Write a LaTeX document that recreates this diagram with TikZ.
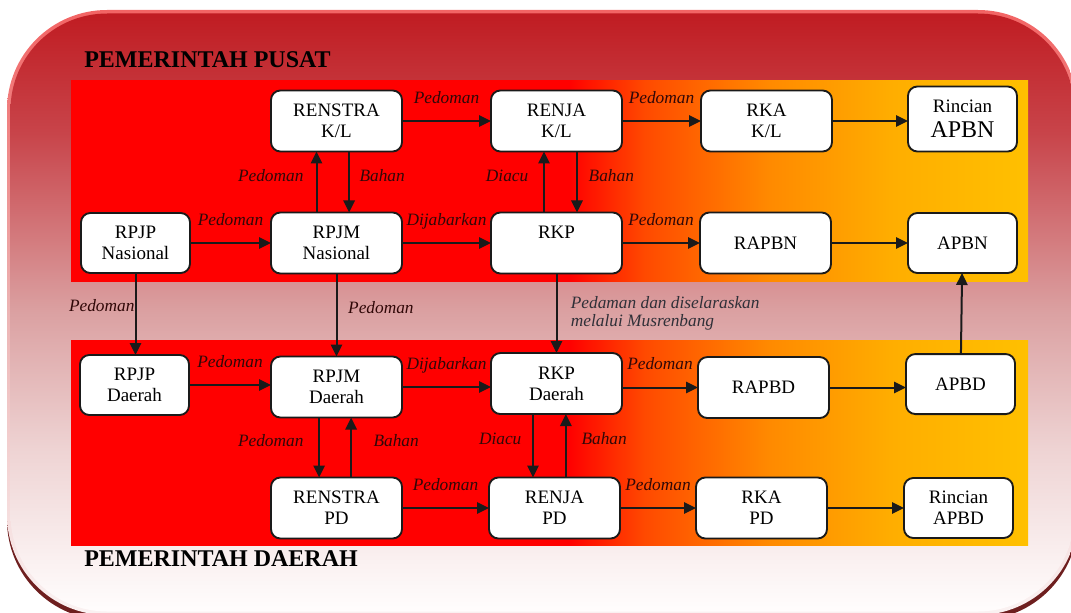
\documentclass[tikz,border=0pt]{standalone}
\usepackage{fontspec}
\setmainfont{Liberation Serif}
\usetikzlibrary{positioning,arrows.meta}

\definecolor{bandred}{HTML}{FF0000}
\definecolor{bandoa}{HTML}{FF4A00}
\definecolor{bandob}{HTML}{FF8A00}
\definecolor{bandoc}{HTML}{FFAE00}
\definecolor{bandyel}{HTML}{FFC000}
\definecolor{frtop}{HTML}{C01C22}
\definecolor{fra}{HTML}{C8444A}
\definecolor{frb}{HTML}{DBA1A2}
\definecolor{frc}{HTML}{EED3D3}
\definecolor{frd}{HTML}{FAF0F0}
\definecolor{frbot}{HTML}{FFFDFD}
\definecolor{edgetop}{HTML}{F26464}
\definecolor{edgemid}{HTML}{ECB4B4}
\definecolor{edgebot}{HTML}{FAF2F2}
\definecolor{frshadow}{HTML}{6E1F1F}
\definecolor{boxline}{HTML}{1A1A1A}
\definecolor{lbltxt}{HTML}{300808}
\definecolor{notetxt}{HTML}{303038}

\pgfdeclarehorizontalshading{bandfill}{100bp}{color(0bp)=(bandred); color(51bp)=(bandred); color(55bp)=(bandoa); color(61.5bp)=(bandob); color(68bp)=(bandoc); color(75bp)=(bandyel); color(100bp)=(bandyel)}
\pgfdeclareverticalshading{framefill}{100bp}{color(0bp)=(frbot); color(25bp)=(frbot); color(29.5bp)=(frd); color(38.6bp)=(frc); color(50bp)=(frb); color(65bp)=(fra); color(75bp)=(frtop); color(100bp)=(frtop)}
\pgfdeclareverticalshading{frameedge}{100bp}{color(0bp)=(edgebot); color(25bp)=(edgebot); color(50bp)=(edgemid); color(75bp)=(edgetop); color(100bp)=(edgetop)}

\tikzset{
	box/.style={draw=boxline, line width=1.4pt, fill=white, rounded corners=7pt, align=center, outer sep=0pt,
		font=\fontsize{14.25}{15.75}\selectfont, inner sep=2pt, minimum width=98.25pt, minimum height=45.75pt},
	boxs/.style={box, minimum width=81.75pt, minimum height=45pt},
	lbl/.style={font=\itshape\fontsize{13}{15.5}\selectfont, text=lbltxt, inner sep=1pt, text height=9pt, text depth=2.5pt},
	note/.style={font=\itshape\fontsize{13}{13.5}\selectfont, text=notetxt, inner sep=1pt, align=left},
	title/.style={font=\bfseries\fontsize{18}{20}\selectfont, inner sep=0pt},
	arr/.style={-{Triangle[length=9pt,width=8.5pt]}, line width=1.5pt, draw=boxline}
}

\begin{document}
\begin{tikzpicture}[x=0.75pt, y=-0.75pt]
			\useasboundingbox (0,0) rectangle (1071,613);
			
			% Frame and bands
			\fill[frshadow, rounded corners=75pt] (7,17) rectangle (1078,620);
			\shade[shading=frameedge, rounded corners=75pt] (7,10) rectangle (1078,615);
			\shade[shading=framefill, rounded corners=72.5pt] (10.5,13.5) rectangle (1074.5,611.5);
			\shade[shading=bandfill] (71,81) rectangle (1028,281);
			\shade[shading=bandfill] (71,340) rectangle (1028,545);
			
			\node[title, anchor=base west] (t_pusat) at (84,68) {PEMERINTAH PUSAT};
			\node[title, anchor=base west] (t_daerah) at (84,566) {PEMERINTAH DAERAH};
			
			% Define nodes
			\node[box] (rpjm_n) at (336.5,243) {RPJM\\Nasional};
			\node[boxs, left=60.75pt of rpjm_n] (rpjp_n) {RPJP\\Nasional};
			\node[box, right=66.75pt of rpjm_n] (rkp_n) {RKP\\\phantom{N}};
			\node[box, right=58.5pt of rkp_n] (rapbn) {RAPBN};
			\node[boxs, right=57.75pt of rapbn] (apbn) {APBN};
			
			\node[box, above=45.75pt of rpjm_n] (renstra_kl) {RENSTRA\\K/L};
			\node[box, right=66.75pt of renstra_kl] (renja_kl) {RENJA\\K/L};
			\node[box, right=59.25pt of renja_kl] (rka_kl) {RKA\\K/L};
			\node[boxs, right=57pt of rka_kl, yshift=1.5pt, minimum height=48.75pt] (rinc_n) {Rincian\\[3pt]{\fontsize{18}{18}\selectfont APBN}};
			
			\node[box, below=62.25pt of rpjm_n] (rpjm_d) {RPJM\\Daerah};
			\node[boxs, left=61.5pt of rpjm_d, yshift=1.5pt] (rpjp_d) {RPJP\\Daerah};
			\node[box, right=66.75pt of rpjm_d, yshift=2.6pt] (rkp_d) {RKP\\Daerah};
			\node[box, right=57pt of rkp_d, yshift=-3pt] (rapbd) {RAPBD};
			\node[boxs, right=57.75pt of rapbd, yshift=2.6pt] (apbd) {APBD};
			
			\node[box, below=45pt of rpjm_d] (renstra_pd) {RENSTRA\\PD};
			\node[box, right=65.25pt of renstra_pd] (renja_pd) {RENJA\\PD};
			\node[box, right=57pt of renja_pd] (rka_pd) {RKA\\PD};
			\node[boxs, right=57.75pt of rka_pd] (rinc_d) {Rincian\\APBD};
			
			% Connect the nodes
			\draw[arr] (renstra_kl) -- node[lbl, above=9pt] {Pedoman} (renja_kl);
			\draw[arr] (renja_kl) -- node[lbl, above=9pt] {Pedoman} (rka_kl);
			\draw[arr] (rka_kl.east) -- (rka_kl.east -| rinc_n.west);
			\draw[arr] (rpjp_n) -- node[lbl, above=9pt] {Pedoman} (rpjm_n);
			\draw[arr] (rpjm_n) -- node[lbl, above=9pt] {Dijabarkan} (rkp_n);
			\draw[arr] (rkp_n) -- node[lbl, above=9pt] {Pedoman} (rapbn);
			\draw[arr] (rapbn) -- (apbn);
			
			\draw[arr] ([xshift=-15pt]rpjm_n.north) -- node[lbl, left=8pt, yshift=4pt] {Pedoman} ([xshift=-15pt]renstra_kl.south);
			\draw[arr] ([xshift=9.5pt]renstra_kl.south) -- node[lbl, right=6pt, yshift=4pt] {Bahan} ([xshift=9.5pt]rpjm_n.north);
			\draw[arr] ([xshift=-9.4pt]rkp_n.north) -- node[lbl, left=10pt, yshift=4pt] {Diacu} ([xshift=-9.4pt]renja_kl.south);
			\draw[arr] ([xshift=15.4pt]renja_kl.south) -- node[lbl, right=7pt, yshift=4pt] {Bahan} ([xshift=15.4pt]rkp_n.north);
			
			\draw[arr] (rpjp_n.south) -- node[lbl, left=-1pt, yshift=5pt] {Pedoman} (rpjp_n.south |- rpjp_d.north);
			\draw[arr] (rpjm_n) -- node[lbl, right=7pt, yshift=4.5pt] {Pedoman} (rpjm_d);
			\draw[arr] (rkp_n.south) -- node[note, right=9pt] {Pedaman dan diselaraskan\\melalui Musrenbang} (rkp_n.south |- rkp_d.north);
			\draw[arr] (apbd) -- (apbn);
			
			\draw[arr] (rpjp_d.east) -- node[lbl, above=9pt] {Pedoman} (rpjp_d.east -| rpjm_d.west);
			\draw[arr] (rpjm_d.east) -- node[lbl, above=9pt] {Dijabarkan} (rpjm_d.east -| rkp_d.west);
			\draw[arr] (rkp_d.east |- rapbd.west) -- node[lbl, above=9pt] {Pedoman} (rapbd.west);
			\draw[arr] (rapbd.east) -- (rapbd.east -| apbd.west);
			
			\draw[arr] ([xshift=-13pt]rpjm_d.south) -- node[lbl, left=10pt, yshift=4pt] {Pedoman} ([xshift=-13pt]renstra_pd.north);
			\draw[arr] ([xshift=11pt]renstra_pd.north) -- node[lbl, right=15pt, yshift=4pt] {Bahan} ([xshift=11pt]rpjm_d.south);
			\draw[arr] ([xshift=-17.6pt]rkp_d.south) -- node[lbl, left=7pt, yshift=4pt] {Diacu} ([xshift=-17.6pt]rkp_d.south |- renja_pd.north);
			\draw[arr] ([xshift=7pt]rkp_d.south |- renja_pd.north) -- node[lbl, right=10pt, yshift=4pt] {Bahan} ([xshift=7pt]rkp_d.south);
			
			\draw[arr] (renstra_pd) -- node[lbl, above=9pt] {Pedoman} (renja_pd);
			\draw[arr] (renja_pd) -- node[lbl, above=9pt] {Pedoman} (rka_pd);
			\draw[arr] (rka_pd) -- (rinc_d);
			
			\end{tikzpicture}
\end{document}
